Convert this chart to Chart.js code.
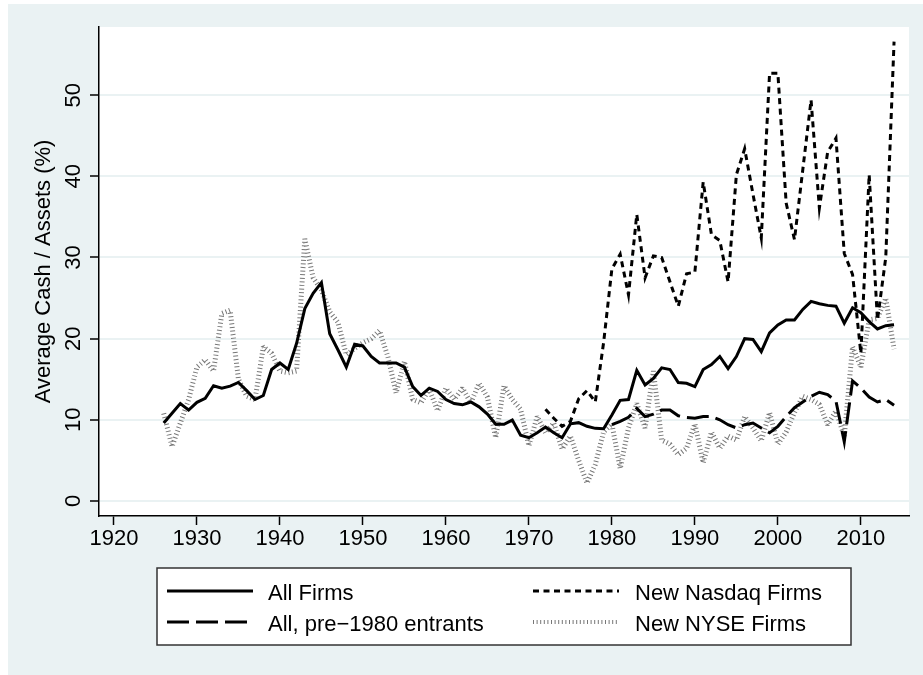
<!DOCTYPE html>
<html>
<head>
<meta charset="utf-8">
<script src="https://cdn.jsdelivr.net/npm/chart.js@4.4.1/dist/chart.umd.min.js"></script>
<style>
  html, body { margin: 0; padding: 0; background: #fff; }
  #wrap { width: 923px; height: 675px; }
</style>
</head>
<body>
<div id="wrap"><canvas id="cash" width="923" height="675"></canvas></div>
<script>
// years 1926..2014
const firstYear = 1926;
const lastYear = 2014;
const years = [];
for (let y = firstYear; y <= lastYear; y++) years.push(y);

const xTicks = [1920, 1930, 1940, 1950, 1960, 1970, 1980, 1990, 2000, 2010];
const yTicks = [0, 10, 20, 30, 40, 50];

const allFirms = [
  9.6, 10.8, 12.0, 11.2, 12.15, 12.65, 14.2, 13.9, 14.15, 14.6,      // 1926-1935
  13.6, 12.5, 13.0, 16.2, 17.0, 16.2, 19.4, 23.7, 25.6, 26.9,        // 1936-1945
  20.6, 18.6, 16.5, 19.3, 19.1, 17.8, 17.0, 17.0, 17.0, 16.5,        // 1946-1955
  14.1, 13.0, 13.9, 13.5, 12.5, 12.0, 11.85, 12.2, 11.6, 10.7,       // 1956-1965
  9.45, 9.45, 9.97, 8.1, 7.8, 8.4, 9.1, 8.4, 7.8, 9.5,               // 1966-1975
  9.65, 9.2, 8.95, 8.9, 10.6, 12.4, 12.5, 16.1, 14.3, 15.1,          // 1976-1985
  16.4, 16.2, 14.6, 14.5, 14.1, 16.2, 16.8, 17.8, 16.3, 17.8,        // 1986-1995
  20.0, 19.9, 18.4, 20.7, 21.7, 22.3, 22.3, 23.6, 24.6, 24.3,        // 1996-2005
  24.1, 24.0, 21.9, 23.8, 23.2, 22.1, 21.2, 21.6, 21.7               // 2006-2014
];

const pre1980 = [
  null, null, null, null, null, null, null, null, null, null,
  null, null, null, null, null, null, null, null, null, null,
  null, null, null, null, null, null, null, null, null, null,
  null, null, null, null, null, null, null, null, null, null,
  null, null, null, null, null, null, null, null, null, null,
  null, null, null, null, 9.4, 9.8, 10.3, 11.4, 10.4, 10.7,          // 1976-1985
  11.2, 11.2, 10.5, 10.3, 10.2, 10.4, 10.4, 10.0, 9.4, 9.0,          // 1986-1995
  9.4, 9.6, 9.0, 8.4, 9.2, 10.4, 11.5, 12.2, 12.9, 13.4,             // 1996-2005
  13.1, 12.3, 7.3, 14.8, 13.9, 12.8, 12.2, 12.5, 11.8                // 2006-2014
];

const nasdaq = [
  null, null, null, null, null, null, null, null, null, null,
  null, null, null, null, null, null, null, null, null, null,
  null, null, null, null, null, null, null, null, null, null,
  null, null, null, null, null, null, null, null, null, null,
  null, null, null, null, null, null, 11.3, 10.2, 9.2, 9.8,          // 1966-1975
  12.6, 13.6, 12.2, 19.5, 28.6, 30.4, 25.4, 35.3, 27.5, 30.2,        // 1976-1985
  30.0, 27.0, 24.0, 28.0, 28.2, 39.3, 32.8, 32.1, 27.0, 40.2,        // 1986-1995
  43.4, 37.8, 32.4, 52.7, 52.7, 36.7, 32.2, 40.8, 49.4, 36.1,        // 1996-2005
  43.0, 44.7, 30.5, 27.9, 18.2, 40.2, 22.3, 30.0, 56.6               // 2006-2014
];

const nyse = [
  10.8, 6.7, 9.6, 12.5, 16.5, 17.4, 16.0, 23.1, 23.5, 15.0,          // 1926-1935
  12.9, 12.5, 19.0, 18.2, 16.0, 15.8, 16.0, 32.3, 27.5, 26.0,        // 1936-1945
  23.3, 22.0, 18.0, 18.8, 19.5, 20.0, 21.0, 17.8, 13.3, 17.2,        // 1946-1955
  12.5, 12.1, 13.8, 11.1, 13.9, 12.5, 13.9, 12.1, 14.5, 12.8,        // 1956-1965
  7.8, 14.2, 12.5, 11.3, 6.8, 10.4, 8.4, 9.6, 6.4, 8.0,              // 1966-1975
  5.0, 2.2, 4.5, 8.5, 9.5, 4.0, 9.0, 12.0, 9.0, 16.0,                // 1976-1985
  7.5, 7.0, 5.7, 6.5, 9.5, 4.7, 8.5, 6.5, 8.0, 7.5,                  // 1986-1995
  10.4, 9.0, 7.4, 10.9, 7.0, 8.5, 10.9, 12.9, 12.5, 11.9,            // 1996-2005
  9.4, 11.1, 8.0, 19.0, 16.5, 22.3, 22.5, 25.0, 18.7                 // 2006-2014
];

function toPoints(arr) {
  return years.map((yr, i) => ({ x: yr, y: arr[i] }));
}

const FONT = '"Liberation Sans", Arial, sans-serif';
const BG = 'rgb(234,242,243)';

// fond, legenda i pionowe etykiety osi Y
const decor = {
  id: 'decor',
  beforeDraw(chart) {
    const ctx = chart.ctx;
    const a = chart.chartArea;
    ctx.save();
    ctx.fillStyle = '#fff';
    ctx.fillRect(0, 0, chart.width, chart.height);
    ctx.fillStyle = BG;
    ctx.fillRect(8, 4, chart.width - 8, chart.height - 4);
    ctx.fillStyle = '#fff';
    ctx.fillRect(a.left, a.top, a.right - a.left, a.bottom - a.top);
    ctx.restore();
  },
  afterDraw(chart) {
    const ctx = chart.ctx;
    const ys = chart.scales.y;
    ctx.save();
    ctx.font = '22px ' + FONT;
    ctx.fillStyle = '#000';
    ctx.textAlign = 'center';
    ctx.textBaseline = 'alphabetic';
    yTicks.forEach(v => {
      ctx.save();
      ctx.translate(80, ys.getPixelForValue(v));
      ctx.rotate(-Math.PI / 2);
      ctx.fillText(String(v), 0, 0);
      ctx.restore();
    });

    // legenda
    ctx.fillStyle = '#fff';
    ctx.fillRect(157, 568, 694, 77);
    ctx.strokeStyle = '#333';
    ctx.lineWidth = 1.5;
    ctx.strokeRect(157, 568, 694, 77);

    const slots = [
      { x: 167, tx: 268, y: 591 },
      { x: 167, tx: 268, y: 622 },
      { x: 533, tx: 635, y: 591 },
      { x: 533, tx: 635, y: 622 }
    ];
    chart.data.datasets.forEach((ds, i) => {
      const s = slots[i];
      ctx.save();
      ctx.strokeStyle = ds.borderColor;
      ctx.lineWidth = ds.legendWidth || ds.borderWidth;
      ctx.setLineDash(ds.borderDash || []);
      ctx.lineCap = 'butt';
      ctx.beginPath();
      ctx.moveTo(s.x, s.y);
      ctx.lineTo(s.x + 86, s.y);
      ctx.stroke();
      ctx.restore();
      ctx.fillStyle = '#000';
      ctx.textAlign = 'left';
      ctx.textBaseline = 'alphabetic';
      ctx.fillText(ds.label, s.tx, s.y + 8.5);
    });
    ctx.restore();
  }
};

const ctx = document.getElementById('cash').getContext('2d');
new Chart(ctx, {
  type: 'line',
  data: {
    datasets: [
      {
        label: 'All Firms',
        data: toPoints(allFirms),
        borderColor: '#000',
        borderWidth: 3,
        pointRadius: 0
      },
      {
        label: 'All, pre\u22121980 entrants',
        data: toPoints(pre1980),
        borderColor: '#000',
        borderWidth: 3,
        borderDash: [22, 7],
        pointRadius: 0
      },
      {
        label: 'New Nasdaq Firms',
        data: toPoints(nasdaq),
        borderColor: '#000',
        borderWidth: 3,
        borderDash: [6, 4.5],
        pointRadius: 0
      },
      {
        label: 'New NYSE Firms',
        data: toPoints(nyse),
        borderColor: '#777',
        borderWidth: 5,
        legendWidth: 4,
        borderDash: [1, 2.6],
        borderJoinStyle: 'bevel',
        pointRadius: 0
      }
    ]
  },
  options: {
    responsive: false,
    animation: false,
    devicePixelRatio: 1,
    layout: { padding: { left: 0, top: 27, right: 14, bottom: 0 } },
    elements: { line: { tension: 0, borderJoinStyle: 'miter', borderCapStyle: 'butt' } },
    plugins: {
      legend: { display: false },
      tooltip: { enabled: false }
    },
    scales: {
      x: {
        type: 'linear',
        min: 1918.2,
        max: 2015.8,
        afterBuildTicks: s => { s.ticks = xTicks.map(v => ({ value: v })); },
        afterFit: s => { s.height = 159; },
        border: { display: true, color: '#000', width: 1.5 },
        grid: { drawOnChartArea: false, drawTicks: true, tickLength: 9, tickColor: '#000', tickWidth: 1.5 },
        ticks: {
          color: '#000',
          font: { family: FONT, size: 22 },
          padding: 1,
          maxRotation: 0,
          autoSkip: false,
          callback: v => String(v)
        }
      },
      y: {
        type: 'linear',
        min: -1.85,
        max: 58.4,
        afterBuildTicks: s => { s.ticks = yTicks.map(v => ({ value: v })); },
        afterFit: s => { s.width = 99; },
        border: { display: true, color: '#000', width: 1.5 },
        grid: { color: BG, lineWidth: 2, drawTicks: true, tickLength: 9, tickColor: '#000', tickWidth: 1.5 },
        ticks: { display: false },
        title: {
          display: true,
          text: 'Average Cash / Assets (%)',
          color: '#000',
          font: { family: FONT, size: 22 },
          padding: { top: 31, bottom: 0 }
        }
      }
    }
  },
  plugins: [decor]
});
</script>
</body>
</html>
